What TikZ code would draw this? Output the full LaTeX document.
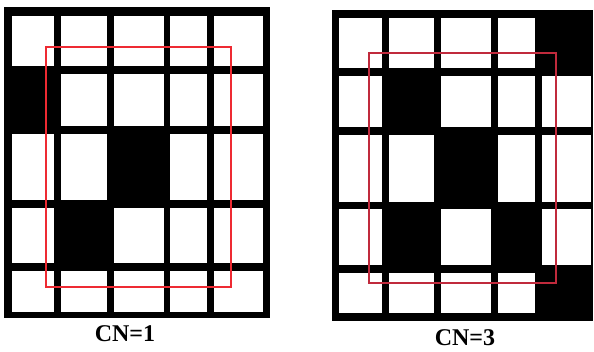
\documentclass[tikz,border=0pt]{standalone}
\usepackage{fontspec}
\setmainfont{Liberation Serif}
\usepackage{xcolor}
\definecolor{frameRedL}{HTML}{EE2A32}
\definecolor{frameRedR}{HTML}{C02A3C}

\begin{document}
\begin{tikzpicture}[x=1pt, y=-1pt]
  \useasboundingbox (0,0) rectangle (594,351);

  % Left grid (CN=1)
  \fill[black] (4,7) rectangle (270,318);
  \foreach \xa/\xb in {12/54, 61/107, 114/164, 170/207, 214/263}
    \foreach \ya/\yb in {16/66, 74/126, 134/200, 208/263, 271/312}
      \fill[white] (\xa,\ya) rectangle (\xb,\yb);
  \fill[black] (12,74) rectangle (54,126);
  \fill[black] (114,134) rectangle (164,200);
  \fill[black] (61,208) rectangle (107,263);
  \draw[frameRedL, line width=1.6pt] (46,47) rectangle (231,287);

  % Right grid (CN=3)
  \fill[black] (332,10) rectangle (593,321);
  \foreach \xa/\xb in {339/382, 389/434, 441/491, 498/535, 542/591}
    \foreach \ya/\yb in {18/68, 76/127, 135/202, 209/265, 273/313}
      \fill[white] (\xa,\ya) rectangle (\xb,\yb);
  \fill[black] (542,18) rectangle (591,68);
  \fill[black] (389,76) rectangle (434,127);
  \fill[black] (441,135) rectangle (491,202);
  \fill[black] (389,209) rectangle (434,265);
  \fill[black] (498,209) rectangle (535,265);
  \fill[black] (542,273) rectangle (591,313);
  \draw[frameRedR, line width=1.6pt] (369,53) rectangle (556,283);

  % Labels
  \node[font=\fontsize{24}{28}\selectfont\bfseries] (cnOne) at (125,334) {CN=1};
  \node[font=\fontsize{24}{28}\selectfont\bfseries] (cnThree) at (465,338) {CN=3};
\end{tikzpicture}
\end{document}
